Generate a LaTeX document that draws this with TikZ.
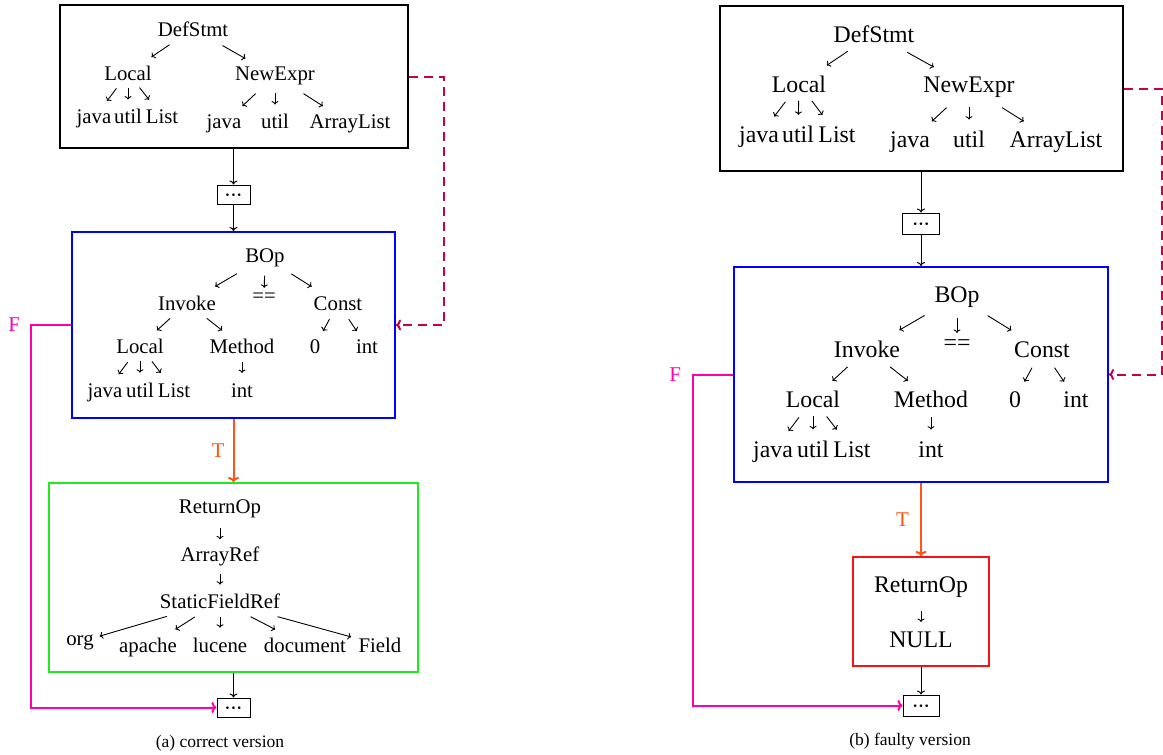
\documentclass[tikz,border=0pt]{standalone}
\usepackage{fontspec}
\setmainfont{Liberation Serif}
\usetikzlibrary{calc,arrows.meta}
\definecolor{cblue}{RGB}{0,0,255}
\definecolor{cgreen}{RGB}{34,232,34}
\definecolor{cred}{RGB}{245,20,20}
\definecolor{corange}{RGB}{255,85,20}
\definecolor{cmag}{RGB}{255,0,170}
\definecolor{cdash}{RGB}{200,0,75}
\newcommand{\tarr}[4]{\draw[tarrow] ($(#1)!#3!(#2)$) -- ($(#1)!#4!(#2)$);}
\newcommand{\mydots}{\textbf{·\kern0.5pt·\kern0.5pt·}}
\begin{document}
\begin{tikzpicture}[x=1pt,y=-1pt,
  lt/.style={font=\fontsize{20.8}{25}\selectfont, inner sep=0pt, anchor=base},
  rt/.style={font=\fontsize{23.8}{28}\selectfont, inner sep=0pt, anchor=base},
  captxt/.style={font=\fontsize{17.5}{21}\selectfont, inner sep=0pt, anchor=base},
  tarrow/.style={line width=0.9pt, -{To[length=3.4pt,width=7pt]}},
  boxnode/.style={draw, line width=2pt, inner sep=0pt},
  dotsbox/.style={draw, line width=1pt, inner sep=0pt, font=\fontsize{16}{18}\selectfont, text height=12.5pt, text depth=0pt},
  flow/.style={line width=1pt, -{To[length=4pt,width=8pt]}},
  tline/.style={draw=corange, line width=2pt, -{To[length=5pt,width=11pt]}},
  fline/.style={draw=cmag, line width=2pt, -{To[length=5pt,width=11pt]}},
  dline/.style={draw=cdash, line width=2pt, dash pattern=on 9pt off 6pt, -{To[length=5pt,width=11pt]}},
  tlab/.style={text=corange, font=\fontsize{21}{25}\selectfont, inner sep=0pt},
  flab/.style={text=cmag, font=\fontsize{21}{25}\selectfont, inner sep=0pt}
]
\useasboundingbox (0,0) rectangle (1163,755);

% ===== (a) correct version =====
\node[boxnode, minimum width=348pt, minimum height=143pt] (aDefBox) at (233.5,76.5) {};
\node[dotsbox, minimum width=33pt, minimum height=19pt] (aDots1) at (233.5,194.5) {\mydots};
\node[boxnode, draw=cblue, minimum width=323pt, minimum height=186pt] (aBOpBox) at (233.5,325) {};
\node[boxnode, draw=cgreen, minimum width=369pt, minimum height=189pt] (aRetBox) at (233.5,577.5) {};
\node[dotsbox, minimum width=33pt, minimum height=19pt] (aDots2) at (233.5,707.5) {\mydots};

\node[lt] (aDef) at (193,36) {DefStmt};
\node[lt] (aLoc) at (128,80) {Local};
\node[lt] (aNew) at (275,80) {NewExpr};
\node[lt] (aLj) at (94,123) {java};
\node[lt] (aLu) at (128,123) {util};
\node[lt] (aLl) at (162,123) {List};
\node[lt] (aNj) at (224,128) {java};
\node[lt] (aNu) at (275,128) {util};
\node[lt] (aNa) at (350,128) {ArrayList};

\node[lt] (aBOp) at (265,262) {BOp};
\node[lt] (aInv) at (187,310) {Invoke};
\node[lt, anchor=center] (aEq) at (264,298) {==};
\node[lt] (aCon) at (338,310) {Const};
\node[lt] (aBLoc) at (140,353) {Local};
\node[lt] (aMet) at (242,353) {Method};
\node[lt] (aZero) at (315,353) {0};
\node[lt] (aCint) at (367,353) {int};
\node[lt] (aBj) at (105,397) {java};
\node[lt] (aBu) at (140,397) {util};
\node[lt] (aBl) at (174,397) {List};
\node[lt] (aMint) at (242,397) {int};

\node[lt] (aRet) at (220,513) {ReturnOp};
\node[lt] (aArr) at (220,561) {ArrayRef};
\node[lt] (aSfr) at (220,608) {StaticFieldRef};
\node[lt] (aOrg) at (80,645) {org};
\node[lt] (aApa) at (148,652) {apache};
\node[lt] (aLuc) at (220,652) {lucene};
\node[lt] (aDoc) at (305,652) {document};
\node[lt] (aFie) at (380,652) {Field};

\node[captxt] (capa) at (220,747) {(a) correct version};

\tarr{aDef}{aLoc}{.36}{.64}
\tarr{aDef}{aNew}{.36}{.64}
\tarr{aLoc}{aLj}{.34}{.62}
\tarr{aLoc}{aLu}{.34}{.62}
\tarr{aLoc}{aLl}{.34}{.62}
\tarr{aNew}{aNj}{.38}{.64}
\tarr{aNew}{aNu}{.38}{.64}
\tarr{aNew}{aNa}{.38}{.64}
\tarr{aBOp}{aInv}{.36}{.64}
\tarr{aBOp}{aEq}{.45}{.75}
\tarr{aBOp}{aCon}{.36}{.64}
\tarr{aInv}{aBLoc}{.36}{.64}
\tarr{aInv}{aMet}{.36}{.64}
\tarr{aCon}{aZero}{.37}{.65}
\tarr{aCon}{aCint}{.37}{.65}
\tarr{aBLoc}{aBj}{.35}{.61}
\tarr{aBLoc}{aBu}{.35}{.61}
\tarr{aBLoc}{aBl}{.35}{.61}
\tarr{aMet}{aMint}{.36}{.61}
\tarr{aRet}{aArr}{.42}{.65}
\tarr{aArr}{aSfr}{.40}{.64}
\tarr{aSfr}{aOrg}{.38}{.86}
\tarr{aSfr}{aApa}{.35}{.62}
\tarr{aSfr}{aLuc}{.36}{.61}
\tarr{aSfr}{aDoc}{.36}{.65}
\tarr{aSfr}{aFie}{.36}{.82}

\draw[flow] (aDefBox.south) -- (aDots1.north);
\draw[flow] (aDots1.south) -- (aBOpBox.north);
\draw[flow] (aRetBox.south) -- (aDots2.north);
\draw[tline] (aBOpBox.south) -- node[tlab, midway, left=8pt] (aT) {T} (aRetBox.north);
\draw[fline] (aBOpBox.west) -- ++(-40,0) node[flab, left=10pt] (aF) {F} |- (aDots2.west);
\draw[dline] (aDefBox.east) -- ++(35,0) |- (aBOpBox.east);

% ===== (b) faulty version =====
\node[boxnode, minimum width=403pt, minimum height=165pt] (bDefBox) at (921,88.5) {};
\node[dotsbox, minimum width=37pt, minimum height=21pt] (bDots1) at (921,223.5) {\mydots};
\node[boxnode, draw=cblue, minimum width=374pt, minimum height=215pt] (bBOpBox) at (921,374.5) {};
\node[boxnode, draw=cred, minimum width=136pt, minimum height=109pt] (bRetBox) at (921,611.5) {};
\node[dotsbox, minimum width=36pt, minimum height=21pt] (bDots2) at (921,705.5) {\mydots};

\node[rt] (bDef) at (874,42) {DefStmt};
\node[rt] (bLoc) at (799,92) {Local};
\node[rt] (bNew) at (969,92) {NewExpr};
\node[rt] (bLj) at (759,142) {java};
\node[rt] (bLu) at (798,142) {util};
\node[rt] (bLl) at (837,142) {List};
\node[rt] (bNj) at (910,147) {java};
\node[rt] (bNu) at (969,147) {util};
\node[rt] (bNa) at (1056,147) {ArrayList};

\node[rt] (bBOp) at (957,302) {BOp};
\node[rt] (bInv) at (867,357) {Invoke};
\node[rt, anchor=center] (bEq) at (957,345) {==};
\node[rt] (bCon) at (1042,357) {Const};
\node[rt] (bBLoc) at (813,407) {Local};
\node[rt] (bMet) at (931,407) {Method};
\node[rt] (bZero) at (1015,407) {0};
\node[rt] (bCint) at (1076,407) {int};
\node[rt] (bBj) at (773,457) {java};
\node[rt] (bBu) at (813,457) {util};
\node[rt] (bBl) at (852,457) {List};
\node[rt] (bMint) at (931,457) {int};

\node[rt] (bRet) at (921,592) {ReturnOp};
\node[rt] (bNull) at (921,647) {NULL};

\node[captxt] (capb) at (910,745) {(b) faulty version};

\tarr{bDef}{bLoc}{.35}{.63}
\tarr{bDef}{bNew}{.35}{.63}
\tarr{bLoc}{bLj}{.34}{.62}
\tarr{bLoc}{bLu}{.34}{.62}
\tarr{bLoc}{bLl}{.34}{.62}
\tarr{bNew}{bNj}{.38}{.63}
\tarr{bNew}{bNu}{.38}{.63}
\tarr{bNew}{bNa}{.38}{.63}
\tarr{bBOp}{bInv}{.36}{.64}
\tarr{bBOp}{bEq}{.45}{.75}
\tarr{bBOp}{bCon}{.36}{.64}
\tarr{bInv}{bBLoc}{.36}{.64}
\tarr{bInv}{bMet}{.36}{.64}
\tarr{bCon}{bZero}{.37}{.65}
\tarr{bCon}{bCint}{.37}{.65}
\tarr{bBLoc}{bBj}{.35}{.61}
\tarr{bBLoc}{bBu}{.35}{.61}
\tarr{bBLoc}{bBl}{.35}{.61}
\tarr{bMet}{bMint}{.36}{.61}
\tarr{bRet}{bNull}{.47}{.67}

\draw[flow] (bDefBox.south) -- (bDots1.north);
\draw[flow] (bDots1.south) -- (bBOpBox.north);
\draw[flow] (bRetBox.south) -- (bDots2.north);
\draw[tline] (bBOpBox.south) -- node[tlab, midway, left=11pt] (bT) {T} (bRetBox.north);
\draw[fline] (bBOpBox.west) -- ++(-40,0) node[flab, left=11pt] (bF) {F} |- (bDots2.west);
\draw[dline] (bDefBox.east) -- ++(38,0) |- (bBOpBox.east);
\end{tikzpicture}
\end{document}
